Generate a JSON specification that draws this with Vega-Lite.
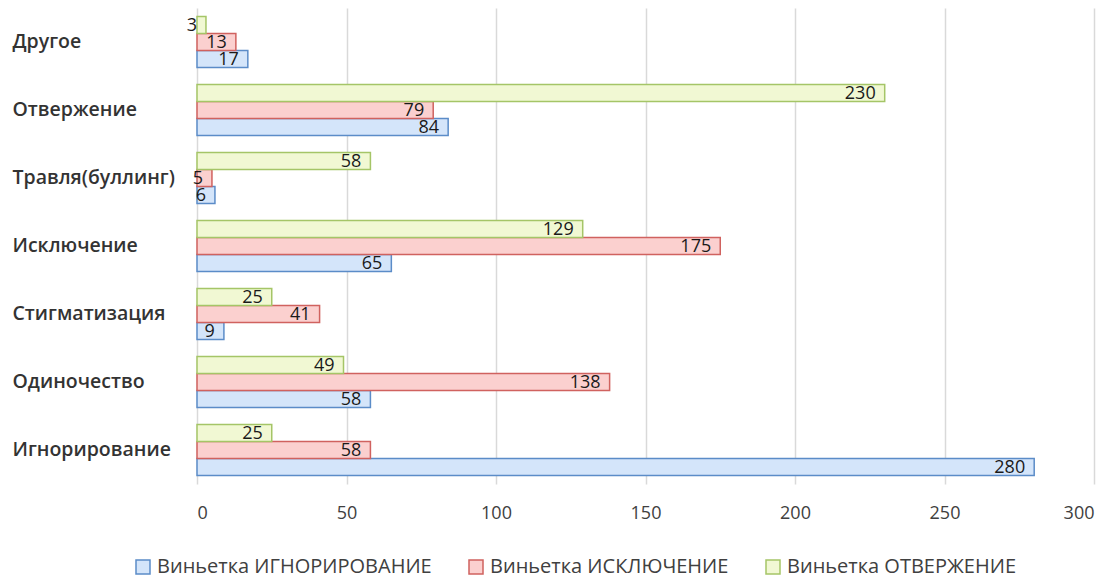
{
  "$schema": "https://vega.github.io/schema/vega-lite/v6.json",
  "autosize": {"type": "none"},
  "width": 897,
  "height": 476,
  "padding": {"left": 197, "top": 8, "right": 18, "bottom": 98},
  "background": "white",
  "config": {
    "font": "Open Sans",
    "view": {"stroke": null}
  },
  "data": {
    "values": [
      {"cat": "Другое", "series": "Виньетка ИГНОРИРОВАНИЕ", "value": 17},
      {"cat": "Другое", "series": "Виньетка ИСКЛЮЧЕНИЕ", "value": 13},
      {"cat": "Другое", "series": "Виньетка ОТВЕРЖЕНИЕ", "value": 3},
      {"cat": "Отвержение", "series": "Виньетка ИГНОРИРОВАНИЕ", "value": 84},
      {"cat": "Отвержение", "series": "Виньетка ИСКЛЮЧЕНИЕ", "value": 79},
      {"cat": "Отвержение", "series": "Виньетка ОТВЕРЖЕНИЕ", "value": 230},
      {"cat": "Травля(буллинг)", "series": "Виньетка ИГНОРИРОВАНИЕ", "value": 6},
      {"cat": "Травля(буллинг)", "series": "Виньетка ИСКЛЮЧЕНИЕ", "value": 5},
      {"cat": "Травля(буллинг)", "series": "Виньетка ОТВЕРЖЕНИЕ", "value": 58},
      {"cat": "Исключение", "series": "Виньетка ИГНОРИРОВАНИЕ", "value": 65},
      {"cat": "Исключение", "series": "Виньетка ИСКЛЮЧЕНИЕ", "value": 175},
      {"cat": "Исключение", "series": "Виньетка ОТВЕРЖЕНИЕ", "value": 129},
      {"cat": "Стигматизация", "series": "Виньетка ИГНОРИРОВАНИЕ", "value": 9},
      {"cat": "Стигматизация", "series": "Виньетка ИСКЛЮЧЕНИЕ", "value": 41},
      {"cat": "Стигматизация", "series": "Виньетка ОТВЕРЖЕНИЕ", "value": 25},
      {"cat": "Одиночество", "series": "Виньетка ИГНОРИРОВАНИЕ", "value": 58},
      {"cat": "Одиночество", "series": "Виньетка ИСКЛЮЧЕНИЕ", "value": 138},
      {"cat": "Одиночество", "series": "Виньетка ОТВЕРЖЕНИЕ", "value": 49},
      {"cat": "Игнорирование", "series": "Виньетка ИГНОРИРОВАНИЕ", "value": 280},
      {"cat": "Игнорирование", "series": "Виньетка ИСКЛЮЧЕНИЕ", "value": 58},
      {"cat": "Игнорирование", "series": "Виньетка ОТВЕРЖЕНИЕ", "value": 25}
    ]
  },
  "encoding": {
    "y": {
      "field": "cat",
      "type": "nominal",
      "sort": ["Другое", "Отвержение", "Травля(буллинг)", "Исключение", "Стигматизация", "Одиночество", "Игнорирование"],
      "scale": {"paddingInner": 0.25, "paddingOuter": 0.125},
      "axis": {
        "title": null,
        "domain": false,
        "ticks": false,
        "labelAlign": "left",
        "labelPadding": 185,
        "labelFontSize": 19.5,
        "labelFontWeight": 600,
        "labelColor": "#333333",
        "labelFont": "Open Sans",
        "labelLimit": 0
      }
    },
    "yOffset": {
      "field": "series",
      "type": "nominal",
      "sort": ["Виньетка ОТВЕРЖЕНИЕ", "Виньетка ИСКЛЮЧЕНИЕ", "Виньетка ИГНОРИРОВАНИЕ"]
    },
    "x": {
      "field": "value",
      "type": "quantitative",
      "scale": {"domain": [0, 300], "nice": false},
      "axis": {
        "title": null,
        "values": [0, 50, 100, 150, 200, 250, 300],
        "domain": false,
        "ticks": false,
        "grid": true,
        "gridColor": "#d9d9d9",
        "gridWidth": 1.5,
        "labelPadding": 20,
        "labelFontSize": 18,
        "labelColor": "#404040",
        "labelFont": "Open Sans"
      }
    }
  },
  "layer": [
    {
      "mark": {"type": "bar", "strokeWidth": 1.5},
      "encoding": {
        "fill": {
          "field": "series",
          "type": "nominal",
          "scale": {
            "domain": ["Виньетка ИГНОРИРОВАНИЕ", "Виньетка ИСКЛЮЧЕНИЕ", "Виньетка ОТВЕРЖЕНИЕ"],
            "range": ["#d4e5fa", "#fbd0cf", "#f1f8d3"]
          },
          "legend": {
            "title": null,
            "orient": "none",
            "legendX": -64,
            "legendY": 549,
            "direction": "horizontal",
            "symbolType": "square",
            "symbolSize": 196,
            "symbolStrokeWidth": 1.5,
            "labelFontSize": 20,
            "labelOffset": 4,
            "labelColor": "#404040",
            "labelFont": "Open Sans",
            "labelLimit": 0,
            "columnPadding": 34
          }
        },
        "stroke": {
          "field": "series",
          "type": "nominal",
          "scale": {
            "domain": ["Виньетка ИГНОРИРОВАНИЕ", "Виньетка ИСКЛЮЧЕНИЕ", "Виньетка ОТВЕРЖЕНИЕ"],
            "range": ["#5b8cc8", "#d0625f", "#a5c567"]
          },
          "legend": null
        }
      }
    },
    {
      "mark": {"type": "text", "align": "right", "dx": -9, "fontSize": 18, "color": "#1a1a1a", "font": "Open Sans", "baseline": "middle", "dy": 1},
      "encoding": {
        "text": {"field": "value", "type": "quantitative"}
      }
    }
  ]
}
